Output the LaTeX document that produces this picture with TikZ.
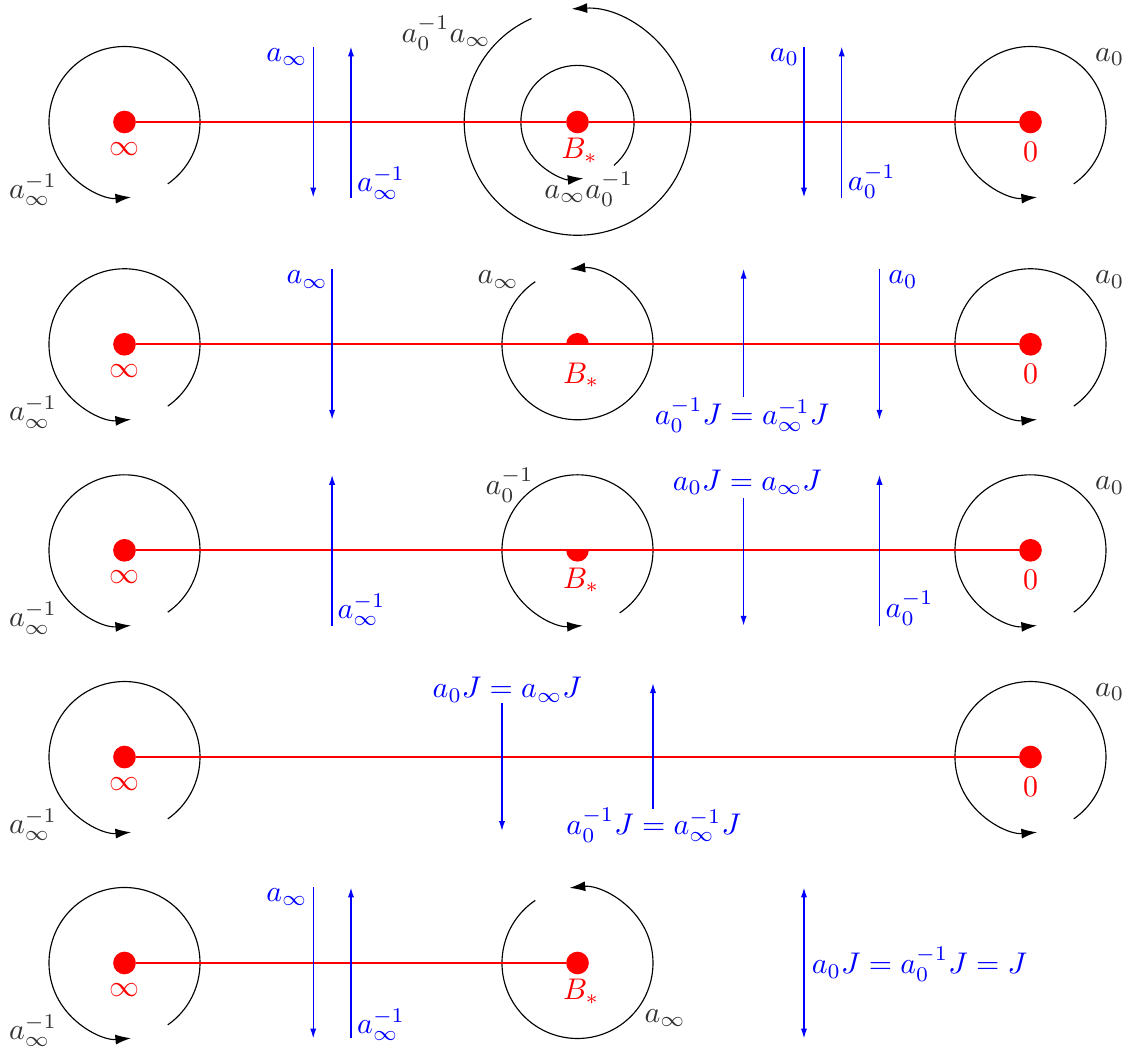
\documentclass[tikz,border=0pt]{standalone}
\usetikzlibrary{arrows.meta}
\begin{document}
\begin{tikzpicture}[x=0.932cm,y=0.932cm,
    loopc/.style={black,-{Latex[length=5.5pt,width=3.5pt]}},
    barrow/.style={blue,line width=0.5pt,-{Latex[length=3.5pt,width=2.2pt]}},
    bboth/.style={blue,line width=0.5pt,{Latex[length=3.5pt,width=2.2pt]}-{Latex[length=3.5pt,width=2.2pt]}},
    rline/.style={red,line width=0.8pt},
    rdot/.style={circle,fill=red,inner sep=0pt,minimum size=0.28cm},
    glab/.style={text=black!80,scale=1.05},
    blab/.style={text=blue,scale=1.05},
    rlab/.style={text=red,scale=1.05}]
    \useasboundingbox (-1.649,1.616) rectangle (13.305,-12.291);

    % first row
    \begin{scope}
        \draw[loopc] (0,0) ++(-55:1) arc (-55:275:1);
        \draw[loopc] (12,0) ++(-55:1) arc (-55:275:1);
        \draw[loopc] (6,0) ++(-50:0.75) arc (-50:276:0.75);
        \draw[loopc] (6,0) ++(114:1.5) arc (114:453:1.5);
        \node[rdot] (inf1) at (0,0) {};
        \node[rdot] (bs1) at (6,0) {};
        \node[rdot] (zero1) at (12,0) {};
        \draw[rline] (inf1) -- (bs1) -- (zero1);
        \draw[barrow] (2.5,1) -- (2.5,-1);
        \draw[barrow] (3,-1) -- (3,1);
        \draw[barrow] (9,1) -- (9,-1);
        \draw[barrow] (9.5,-1) -- (9.5,1);
        \node[rlab] (infl1) at (0,-0.36) {$\infty$};
        \node[rlab] (bsl1) at (6.03,-0.38) {$B_*$};
        \node[rlab] (zerol1) at (12,-0.39) {$0$};
        \node[glab] (li1) at (-1.21,-0.9) {$a_\infty^{-1}$};
        \node[glab] (lz1) at (13.05,0.86) {$a_0$};
        \node[glab] (lin1) at (6.15,-0.89) {$a_\infty a_0^{-1}$};
        \node[glab] (lout1) at (4.26,1.18) {$a_0^{-1}a_\infty$};
        \node[blab] (ba1) at (2.15,0.86) {$a_\infty$};
        \node[blab] (bb1) at (3.40,-0.81) {$a_\infty^{-1}$};
        \node[blab] (bc1) at (8.74,0.86) {$a_0$};
        \node[blab] (bd1) at (9.90,-0.79) {$a_0^{-1}$};
    \end{scope}

    % second row
    \begin{scope}[shift={(0,-2.944)}]
        \draw[loopc] (0,0) ++(-55:1) arc (-55:275:1);
        \draw[loopc] (12,0) ++(-55:1) arc (-55:275:1);
        \draw[loopc] (6,0) ++(124:1) arc (124:456:1);
        \node[rdot] (inf2) at (0,0) {};
        \node[rdot] (zero2) at (12,0) {};
        \draw[rline] (inf2) -- (zero2);
        \fill[red] (6.15,0) arc (0:180:0.15) -- cycle;
        \draw[barrow] (2.75,1) -- (2.75,-1);
        \draw[barrow] (8.2,-0.7) -- (8.2,1);
        \draw[barrow] (10,1) -- (10,-1);
        \node[rlab] (infl2) at (0,-0.36) {$\infty$};
        \node[rlab] (bsl2) at (6.05,-0.41) {$B_*$};
        \node[rlab] (zerol2) at (12,-0.39) {$0$};
        \node[glab] (li2) at (-1.21,-0.9) {$a_\infty^{-1}$};
        \node[glab] (lz2) at (13.05,0.86) {$a_0$};
        \node[glab] (lm2) at (4.95,0.86) {$a_\infty$};
        \node[blab] (ba2) at (2.42,0.86) {$a_\infty$};
        \node[blab] (bb2) at (8.18,-0.94) {$a_0^{-1}J=a_\infty^{-1}J$};
        \node[blab] (bc2) at (10.31,0.86) {$a_0$};
    \end{scope}

    % third row
    \begin{scope}[shift={(0,-5.673)}]
        \draw[loopc] (0,0) ++(-55:1) arc (-55:275:1);
        \draw[loopc] (12,0) ++(-55:1) arc (-55:275:1);
        \draw[loopc] (6,0) ++(-56:1) arc (-56:274:1);
        \node[rdot] (inf3) at (0,0) {};
        \node[rdot] (zero3) at (12,0) {};
        \draw[rline] (inf3) -- (zero3);
        \fill[red] (6.15,0) arc (0:-180:0.15) -- cycle;
        \draw[barrow] (2.75,-1) -- (2.75,1);
        \draw[barrow] (8.2,0.69) -- (8.2,-1);
        \draw[barrow] (10,-1) -- (10,1);
        \node[rlab] (infl3) at (0,-0.36) {$\infty$};
        \node[rlab] (bsl3) at (6.05,-0.40) {$B_*$};
        \node[rlab] (zerol3) at (12,-0.39) {$0$};
        \node[glab] (li3) at (-1.21,-0.9) {$a_\infty^{-1}$};
        \node[glab] (lz3) at (13.05,0.86) {$a_0$};
        \node[glab] (lm3) at (5.1,0.86) {$a_0^{-1}$};
        \node[blab] (ba3) at (3.14,-0.79) {$a_\infty^{-1}$};
        \node[blab] (bb3) at (8.25,0.9) {$a_0J=a_\infty J$};
        \node[blab] (bc3) at (10.4,-0.77) {$a_0^{-1}$};
    \end{scope}

    % fourth row
    \begin{scope}[shift={(0,-8.411)}]
        \draw[loopc] (0,0) ++(-55:1) arc (-55:275:1);
        \draw[loopc] (12,0) ++(-55:1) arc (-55:275:1);
        \node[rdot] (inf4) at (0,0) {};
        \node[rdot] (zero4) at (12,0) {};
        \draw[rline] (inf4) -- (zero4);
        \draw[barrow] (5,0.71) -- (5,-0.98);
        \draw[barrow] (7,-0.69) -- (7,0.98);
        \node[rlab] (infl4) at (0,-0.36) {$\infty$};
        \node[rlab] (zerol4) at (12,-0.39) {$0$};
        \node[glab] (li4) at (-1.21,-0.9) {$a_\infty^{-1}$};
        \node[glab] (lz4) at (13.05,0.86) {$a_0$};
        \node[blab] (ba4) at (5.07,0.89) {$a_0J=a_\infty J$};
        \node[blab] (bb4) at (7.01,-0.90) {$a_0^{-1}J=a_\infty^{-1}J$};
    \end{scope}

    % fifth row
    \begin{scope}[shift={(0,-11.139)}]
        \draw[loopc] (0,0) ++(-55:1) arc (-55:275:1);
        \draw[loopc] (6,0) ++(124:1) arc (124:456:1);
        \node[rdot] (inf5) at (0,0) {};
        \node[rdot] (bs5) at (6,0) {};
        \draw[rline] (inf5) -- (bs5);
        \draw[barrow] (2.5,1) -- (2.5,-1);
        \draw[barrow] (3,-1) -- (3,1);
        \draw[bboth] (9,1) -- (9,-1);
        \node[rlab] (infl5) at (0,-0.36) {$\infty$};
        \node[rlab] (bsl5) at (6.05,-0.38) {$B_*$};
        \node[glab] (li5) at (-1.21,-0.9) {$a_\infty^{-1}$};
        \node[glab] (lm5) at (7.16,-0.73) {$a_\infty$};
        \node[blab] (ba5) at (2.15,0.87) {$a_\infty$};
        \node[blab] (bb5) at (3.40,-0.82) {$a_\infty^{-1}$};
        \node[blab] (bc5) at (10.53,-0.02) {$a_0J=a_0^{-1}J=J$};
    \end{scope}
\end{tikzpicture}
\end{document}
